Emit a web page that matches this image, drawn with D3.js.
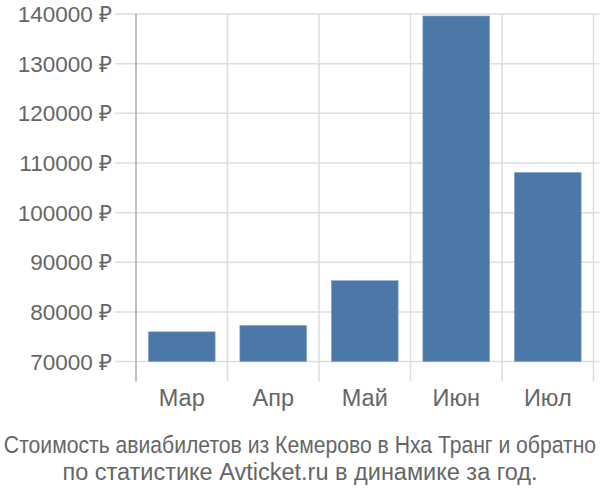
<!DOCTYPE html>
<html>
<head>
<meta charset="utf-8">
<script src="https://cdn.jsdelivr.net/npm/d3@7"></script>
<style>
  body { margin: 0; background: #fff; }
  text { font-family: "Liberation Sans", Arial, sans-serif; fill: #666; }
</style>
</head>
<body>
<svg id="canvas" width="600" height="500"></svg>
<script>
let months = ["Мар", "Апр", "Май", "Июн", "Июл"];
let prices = [76000, 77300, 86300, 139600, 108100];
let yTicks = [70000, 80000, 90000, 100000, 110000, 120000, 130000, 140000];
let titleLines = [
  "Стоимость авиабилетов из Кемерово в Нха Транг и обратно",
  "по статистике Avticket.ru в динамике за год."
];

let canvas = d3.select("#canvas");

let plotLeft = 136, plotRight = 593.5, plotTop = 14, plotBottom = 361.6;

let x = d3.scaleBand().domain(months).range([plotLeft, plotRight]);
let xBar = d3.scaleBand().domain(months).range([plotLeft, plotRight])
  .paddingInner(0.27).paddingOuter(0.135);
let y = d3.scaleLinear().domain([70000, 140000]).range([plotBottom, plotTop]);

// horizontal grid + left ticks
canvas.append("g")
  .selectAll("line")
  .data(yTicks)
  .enter()
  .append("line")
  .attr("x1", plotLeft - 21)
  .attr("x2", plotRight + 6)
  .attr("y1", (d) => y(d))
  .attr("y2", (d) => y(d))
  .attr("stroke", "#ddd")
  .attr("stroke-width", 1.5);

// vertical grid at band edges
let edges = months.map((m) => x(m) + x.step());
canvas.append("g")
  .selectAll("line")
  .data(edges)
  .enter()
  .append("line")
  .attr("x1", (d) => d)
  .attr("x2", (d) => d)
  .attr("y1", plotTop)
  .attr("y2", plotBottom + 20)
  .attr("stroke", "#ddd")
  .attr("stroke-width", 1.5);

// y axis line
canvas.append("line")
  .attr("x1", plotLeft).attr("x2", plotLeft)
  .attr("y1", plotTop).attr("y2", plotBottom + 20)
  .attr("stroke", "#aaa")
  .attr("stroke-width", 1.5);

// bars
canvas.append("g")
  .selectAll("rect")
  .data(prices)
  .enter()
  .append("rect")
  .attr("x", (d, i) => xBar(months[i]))
  .attr("width", xBar.bandwidth())
  .attr("y", (d) => y(d))
  .attr("height", (d) => y(70000) - y(d))
  .attr("fill", "#4c78a8")
  .attr("stroke", "#8aa9cc")
  .attr("stroke-width", 0.6);

// y labels
canvas.append("g")
  .selectAll("text")
  .data(yTicks)
  .enter()
  .append("text")
  .attr("x", 112)
  .attr("y", (d) => y(d))
  .attr("dy", "0.36em")
  .attr("text-anchor", "end")
  .style("font-size", "22.5px")
  .text((d) => d + " ₽");

// x labels
canvas.append("g")
  .selectAll("text")
  .data(months)
  .enter()
  .append("text")
  .attr("x", (d) => x(d) + x.bandwidth() / 2)
  .attr("y", 406)
  .attr("text-anchor", "middle")
  .style("font-size", "23.5px")
  .text((d) => d);

// title, first line squeezed horizontally to fit
canvas.append("g")
  .selectAll("text")
  .data(titleLines)
  .enter()
  .append("text")
  .attr("x", 0)
  .attr("y", 0)
  .attr("transform", (d, i) =>
    "translate(300," + (453 + i * 27) + ")" + (i === 0 ? " scale(0.9,1)" : ""))
  .attr("text-anchor", "middle")
  .style("font-size", "23.5px")
  .text((d) => d);
</script>
</body>
</html>
